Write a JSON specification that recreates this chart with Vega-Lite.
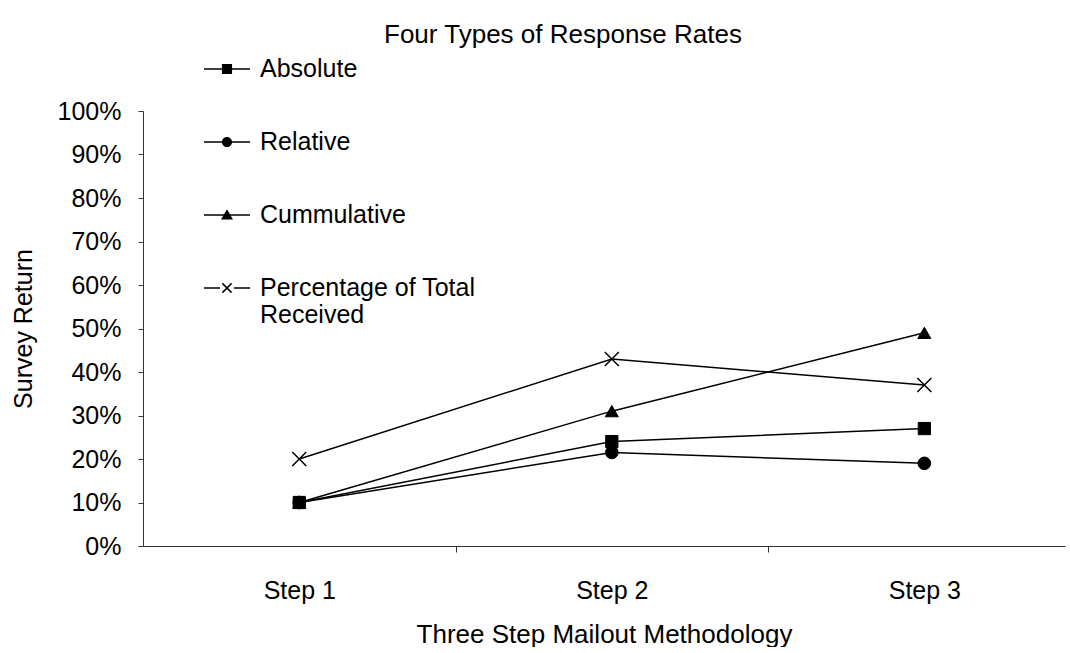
{
  "$schema": "https://vega.github.io/schema/vega-lite/v6.json",
  "width": 922,
  "height": 435,
  "padding": {"left": 11, "top": 22, "right": 3, "bottom": 0},
  "background": "white",
  "config": {
    "view": {"stroke": null},
    "font": "Liberation Sans",
    "axis": {"domainColor": "#333", "tickColor": "#333", "labelColor": "black", "titleColor": "black", "labelFont": "Liberation Sans", "titleFont": "Liberation Sans", "titleFontWeight": "normal", "grid": false}
  },
  "title": {"text": "Four Types of Response Rates", "fontSize": 26, "fontWeight": "normal", "font": "Liberation Sans", "color": "black", "anchor": "middle", "dx": -41, "offset": -2},
  "data": {"values": [
    {"step": 1, "series": "Absolute", "rate": 0.10},
    {"step": 2, "series": "Absolute", "rate": 0.24},
    {"step": 3, "series": "Absolute", "rate": 0.27},
    {"step": 1, "series": "Relative", "rate": 0.10},
    {"step": 2, "series": "Relative", "rate": 0.215},
    {"step": 3, "series": "Relative", "rate": 0.19},
    {"step": 1, "series": "Cummulative", "rate": 0.10},
    {"step": 2, "series": "Cummulative", "rate": 0.31},
    {"step": 3, "series": "Cummulative", "rate": 0.49},
    {"step": 1, "series": "Percentage of Total Received", "rate": 0.20},
    {"step": 2, "series": "Percentage of Total Received", "rate": 0.43},
    {"step": 3, "series": "Percentage of Total Received", "rate": 0.37}
  ]},
  "encoding": {
    "x": {"field": "step", "type": "quantitative",
      "scale": {"domain": [0.5, 3.45], "nice": false, "zero": false},
      "axis": {"values": [1, 1.5, 2, 2.5, 3], "title": "Three Step Mailout Methodology",
        "labelExpr": "datum.value % 1 === 0 ? 'Step ' + datum.value : ''",
        "tickOpacity": {"condition": {"test": "datum.value % 1 === 0", "value": 0}, "value": 1},
        "tickSize": 6, "labelPadding": 26, "labelFontSize": 25, "titleFontSize": 26, "titlePadding": 18, "labelFlush": false, "labelOverlap": false}},
    "y": {"field": "rate", "type": "quantitative",
      "scale": {"domain": [0, 1], "nice": false},
      "axis": {"values": [0, 0.1, 0.2, 0.3, 0.4, 0.5, 0.6, 0.7, 0.8, 0.9, 1], "format": ".0%", "title": "Survey Return",
        "tickSize": 5, "labelPadding": 17, "labelFontSize": 25, "titleFontSize": 25, "titlePadding": 21}}
  },
  "layer": [
    {
      "mark": {"type": "line", "color": "black", "strokeWidth": 1.5},
      "encoding": {"detail": {"field": "series"}}
    },
    {
      "transform": [{"filter": "datum.series == 'Absolute'"}],
      "mark": {"type": "point", "shape": "square", "filled": true, "fill": "black", "stroke": "black", "strokeWidth": 1, "opacity": 1, "size": 150}
    },
    {
      "transform": [{"filter": "datum.series == 'Relative'"}],
      "mark": {"type": "point", "shape": "circle", "filled": true, "fill": "black", "stroke": "black", "strokeWidth": 1, "opacity": 1, "size": 160}
    },
    {
      "transform": [{"filter": "datum.series == 'Cummulative'"}],
      "mark": {"type": "point", "shape": "triangle-up", "filled": true, "fill": "black", "stroke": "black", "strokeWidth": 1, "opacity": 1, "size": 170}
    },
    {
      "transform": [{"filter": "datum.series == 'Percentage of Total Received'"}],
      "mark": {"type": "point", "shape": "M-1,-1L1,1M-1,1L1,-1", "filled": false, "fill": "none", "stroke": "black", "strokeWidth": 1.5, "opacity": 1, "size": 196}
    },
    {
      "transform": [{"filter": "false"}],
      "mark": {"type": "point", "filled": true, "fill": "black", "opacity": 1},
      "encoding": {
        "shape": {"field": "series", "type": "nominal",
          "scale": {"domain": ["Absolute", "Relative", "Cummulative", "Percentage of Total Received"],
            "range": [
              "M-1,-0.033L1,-0.033L1,0.033L-1,0.033ZM-0.22,-0.22L0.22,-0.22L0.22,0.22L-0.22,0.22Z",
              "M-1,-0.033L1,-0.033L1,0.033L-1,0.033ZM0.22,0A0.22,0.22 0 1,1 -0.22,0A0.22,0.22 0 1,1 0.22,0Z",
              "M-1,-0.033L1,-0.033L1,0.033L-1,0.033ZM0,-0.25L0.26,0.2L-0.26,0.2Z",
              "M-1,-0.033L-0.3,-0.033L-0.3,0.033L-1,0.033ZM0.3,-0.033L1,-0.033L1,0.033L0.3,0.033ZM-0.177,-0.223L0.223,0.177L0.177,0.223L-0.223,-0.177ZM0.223,-0.177L-0.177,0.223L-0.223,0.177L0.177,-0.223Z"]},
          "legend": {"orient": "none", "legendX": 61, "legendY": -65, "title": null, "padding": 0,
            "symbolSize": 2116, "symbolStrokeWidth": 0, "symbolFillColor": "black", "symbolOpacity": 1,
            "labelFontSize": 25, "labelFont": "Liberation Sans", "labelColor": "black", "labelLimit": 400, "labelOffset": 10, "rowPadding": 37,
            "labelExpr": "datum.label == 'Percentage of Total Received' ? ['Percentage of Total', 'Received'] : datum.label"}}
      }
    }
  ]
}
